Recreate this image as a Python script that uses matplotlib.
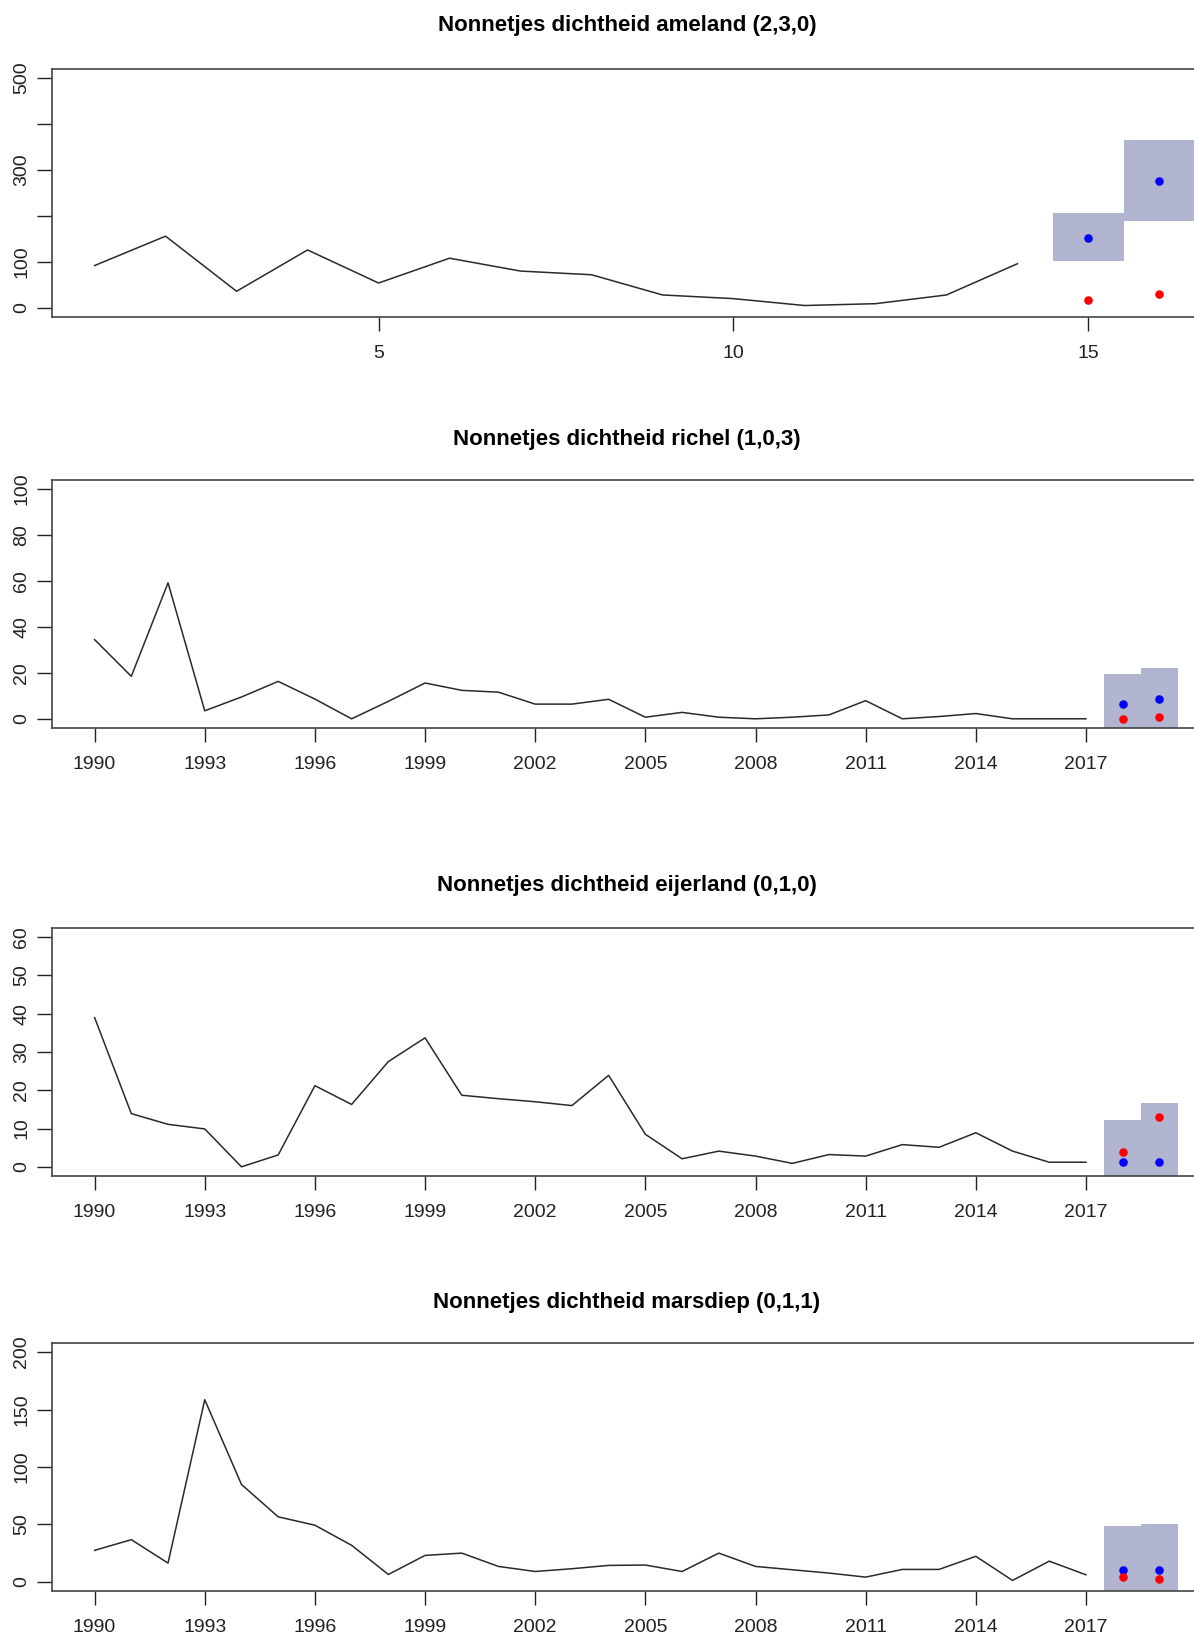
import matplotlib.pyplot as plt
from matplotlib.patches import Rectangle

plt.rcParams['font.family'] = ['Liberation Sans', 'DejaVu Sans']

# ameland: plotted against index 1..14, forecasts at 15 and 16
ameland_x = list(range(1, 15))
ameland = [92, 156, 36, 126, 54, 108, 80, 72, 28, 20, 5, 9, 28, 96]
ameland_fc_x = [15, 16]
ameland_fc = [153, 276]
ameland_obs = [17, 29]
ameland_lo = [102, 190]
ameland_hi = [207, 366]

# other locations: yearly values 1990..2017, forecasts 2018 and 2019
years = list(range(1990, 2018))
fc_years = [2018, 2019]

richel = [34.5, 18.5, 59.2, 3.5, 9.5, 16.3, 8.6, 0, 7.6, 15.6, 12.4, 11.6, 6.4, 6.4,
          8.5, 0.7, 2.8, 0.7, 0, 0.7, 1.7, 7.9, 0, 1, 2.3, 0, 0, 0]
richel_fc = [6.5, 8.6]
richel_obs = [0, 1]
richel_lo = [-6, -5]
richel_hi = [19.5, 22.1]

eijerland = [39, 13.9, 11.1, 9.9, 0, 3.1, 21.2, 16.3, 27.5, 33.7, 18.7, 17.8, 17, 16,
             23.9, 8.5, 2.1, 4.1, 2.8, 0.9, 3.2, 2.8, 5.8, 5.1, 8.9, 4.1, 1.2, 1.2]
eijerland_fc = [1.2, 1.2]
eijerland_obs = [4.0, 13.1]
eijerland_lo = [-10, -14]
eijerland_hi = [12.2, 16.7]

marsdiep = [27.4, 36.7, 16.3, 158.6, 84.8, 56.6, 49.3, 31.8, 6.4, 23, 25, 13.4, 9, 11.4,
            14.3, 14.6, 9, 25, 13.4, 10.5, 7.6, 4.1, 10.8, 10.8, 22.2, 1.2, 18, 6.1]
marsdiep_fc = [9.9, 9.9]
marsdiep_obs = [4.1, 2.6]
marsdiep_lo = [-29, -31]
marsdiep_hi = [48.7, 50.7]

year_ticks = list(range(1990, 2018, 3))

fig = plt.figure(figsize=(11.94, 16.35), dpi=100)
W, H = 1194, 1635


def panel(top_px, bottom_px, title, title_px, x, y, fx, fc, obs, lo, hi,
          xlim, ylim, yticks, ylabels, xticks):
    ax = fig.add_axes([52 / W, 1 - bottom_px / H, 1150 / W, (bottom_px - top_px) / H])
    # prediction interval blocks
    for xi, l, h in zip(fx, lo, hi):
        ax.add_patch(Rectangle((xi - 0.5, l), 1, h - l, facecolor='#b1b5cf',
                               edgecolor='none', zorder=1))
    ax.plot(x, y, color='#2a2a2a', lw=1.1, zorder=2)
    ax.scatter(fx, fc, s=38, color='blue', zorder=3, linewidths=0)
    ax.scatter(fx, obs, s=38, color='red', zorder=3, linewidths=0)
    ax.set_xlim(*xlim)
    ax.set_ylim(*ylim)
    ax.set_xticks(xticks)
    ax.set_yticks(yticks)
    ax.set_yticklabels(ylabels)
    for s in ax.spines.values():
        s.set_color('#444444')
        s.set_linewidth(1.2)
    ax.tick_params(axis='x', length=10, width=1, pad=10, labelsize=14, colors='#222222')
    ax.tick_params(axis='y', length=11, width=1, pad=4.5, labelsize=14, colors='#222222',
                   labelrotation=90)
    for lab in ax.get_yticklabels():
        lab.set_va('center')
    fig.text(627 / W, 1 - title_px / H, title, ha='center', va='center',
             fontsize=16, fontweight='bold')
    return ax


panel(69, 317, 'Nonnetjes dichtheid ameland (2,3,0)', 26,
      ameland_x, ameland, ameland_fc_x, ameland_fc, ameland_obs, ameland_lo, ameland_hi,
      (0.4, 16.6), (-20, 520), [0, 100, 200, 300, 400, 500],
      ['0', '100', '', '300', '', '500'], [5, 10, 15])

panel(480, 728, 'Nonnetjes dichtheid richel (1,0,3)', 439,
      years, richel, fc_years, richel_fc, richel_obs, richel_lo, richel_hi,
      (1988.84, 2020.16), (-4, 104), [0, 20, 40, 60, 80, 100],
      ['0', '20', '40', '60', '80', '100'], year_ticks)

panel(928, 1176, 'Nonnetjes dichtheid eijerland (0,1,0)', 886,
      years, eijerland, fc_years, eijerland_fc, eijerland_obs, eijerland_lo, eijerland_hi,
      (1988.84, 2020.16), (-2.4, 62.4), [0, 10, 20, 30, 40, 50, 60],
      ['0', '10', '20', '30', '40', '50', '60'], year_ticks)

panel(1343, 1591, 'Nonnetjes dichtheid marsdiep (0,1,1)', 1302,
      years, marsdiep, fc_years, marsdiep_fc, marsdiep_obs, marsdiep_lo, marsdiep_hi,
      (1988.84, 2020.16), (-8, 208), [0, 50, 100, 150, 200],
      ['0', '50', '100', '150', '200'], year_ticks)

fig.savefig('out.png', dpi=100)
